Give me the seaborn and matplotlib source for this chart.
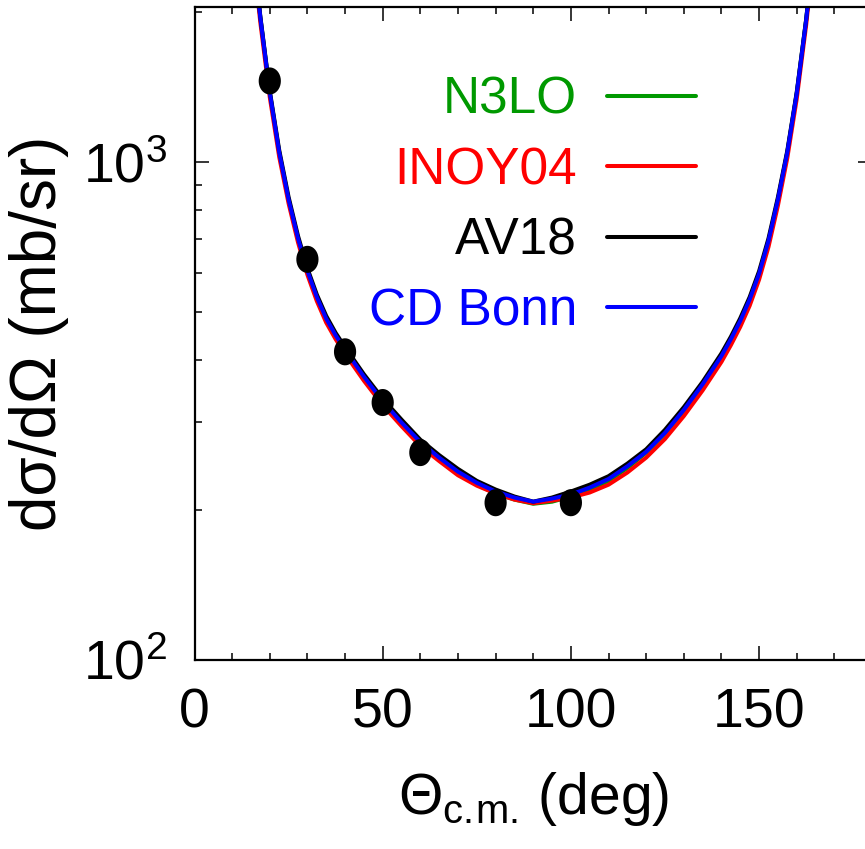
import numpy as np
import pandas as pd
import matplotlib
matplotlib.use("Agg")
import matplotlib.pyplot as plt
from matplotlib.path import Path
from matplotlib.ticker import MultipleLocator, LogLocator, NullFormatter, FixedLocator
import seaborn as sns

# ---------------- data ----------------
theta = [16.5, 17.5, 20, 22.5, 25, 27.5, 30, 32.5, 35, 37.5, 40, 45, 50, 55, 60, 65,
         70, 75, 80, 85, 90, 95, 100, 105, 110, 115, 120, 125, 130, 135, 140, 142.5,
         145, 147.5, 150, 152.5, 155, 157.5, 160, 162.5, 163.5]

n3lo = [2290, 1948, 1378, 1046, 840, 702, 604, 535, 484, 448, 419, 370, 330, 299,
        273, 254, 237, 225, 216, 210, 206, 208, 213, 220, 229, 243, 261, 285, 317,
        357, 407, 440, 479, 529, 596, 694, 840, 1046, 1373, 1927, 2264]
inoy04 = [2240, 1905, 1350, 1025, 826, 690, 594, 526, 476, 441, 412, 364, 325, 295,
          269, 251, 235, 224, 216, 210, 206.5, 209, 212, 217, 225, 238, 255, 278, 309,
          348, 397, 429, 467, 515, 581, 676, 818, 1020, 1340, 1885, 2215]
av18 = [2300, 1960, 1390, 1058, 851, 711, 612, 542, 491, 454, 425, 375, 335, 304,
        277, 258, 242, 229, 220, 213, 208, 212, 218, 225, 234, 248, 265, 290, 322,
        362, 413, 446, 486, 536, 604, 703, 850, 1055, 1382, 1935, 2272]
cdbonn = [2291, 1950, 1380, 1047, 841, 703, 605, 536, 485, 449, 420, 371, 331, 300,
          274, 255, 239, 227, 218, 212, 208, 211, 215, 222, 231, 245, 262, 286, 318,
          358, 408, 441, 480, 530, 597, 695, 841, 1047, 1374, 1928, 2265]

theta_data = [20, 30, 40, 50, 60, 80, 100]
xs_data = [1456, 638, 416, 329, 261, 207, 207]

models = ["N3LO", "INOY04", "AV18", "CD Bonn"]
colors = {"N3LO": "#009900", "INOY04": "#ff0000", "AV18": "#000000", "CD Bonn": "#0000ff"}

x_ticks = [0, 50, 100, 150]
y_ticks = [100, 1000]
y_ticklabels = [r"$\mathregular{10^{2}}$", r"$\mathregular{10^{3}}$"]

# ---------------- style ----------------
sns.set_theme(style="ticks")
fam = ["Liberation Sans", "DejaVu Sans"]
plt.rcParams["font.family"] = fam
plt.rcParams["mathtext.fontset"] = "custom"
plt.rcParams["mathtext.rm"] = "Liberation Sans"
plt.rcParams["mathtext.it"] = "Liberation Sans:italic"
plt.rcParams["mathtext.bf"] = "Liberation Sans:bold"
plt.rcParams["mathtext.sf"] = "Liberation Sans"
for k in ["text.color", "axes.labelcolor", "xtick.color", "ytick.color", "axes.edgecolor"]:
    plt.rcParams[k] = "black"

df = pd.concat([
    pd.DataFrame({"theta": theta, "xs": vals, "model": name})
    for name, vals in zip(models, [n3lo, inoy04, av18, cdbonn])
], ignore_index=True)
pts = pd.DataFrame({"theta": theta_data, "xs": xs_data})

W, H = 865, 849
fig = plt.figure(figsize=(W / 100, H / 100), dpi=100)
left, bottom, right, top = 194.5, 660, 872, 7
ax = fig.add_axes([left / W, (H - bottom) / H, (right - left) / W, (bottom - top) / H])

sns.lineplot(data=df, x="theta", y="xs", hue="model", hue_order=models,
             palette=colors, estimator=None, sort=False, lw=2.9, legend=False, ax=ax)

tt = np.linspace(0, 2 * np.pi, 40)
ell = Path(np.column_stack([0.82 * np.cos(tt), np.sin(tt)]))
sns.scatterplot(data=pts, x="theta", y="xs", color="black", marker=ell, s=380,
                edgecolor="none", zorder=5, ax=ax)

ax.set_yscale("log")
ax.set_xlim(0, 180)
ax.set_ylim(100, 2050)

ax.xaxis.set_major_locator(FixedLocator(x_ticks))
ax.xaxis.set_minor_locator(MultipleLocator(10))
ax.yaxis.set_major_locator(FixedLocator(y_ticks))
ax.yaxis.set_minor_locator(LogLocator(base=10, subs=np.arange(2, 10)))
ax.yaxis.set_minor_formatter(NullFormatter())
ax.set_yticklabels(y_ticklabels)

ax.tick_params(which="both", direction="in", top=True, right=True, labelsize=40,
               colors="black")
ax.tick_params(which="major", length=10, width=1.1)
ax.tick_params(which="minor", length=5, width=1.1)
ax.tick_params(axis="x", pad=20)
ax.tick_params(axis="y", pad=20)
for s in ax.spines.values():
    s.set_linewidth(1.6)
    s.set_color("black")

ax.set_xlabel(r"$\Theta_{\mathrm{c.\!m.\!}}$ (deg)", fontsize=41, labelpad=22,
              color="black")
ax.set_ylabel("dσ/dΩ (mb/sr)", fontsize=46, labelpad=10, color="black")

handles = ax.lines[:4]
leg = ax.legend(handles, models, loc="upper right", bbox_to_anchor=(0.740, 0.895),
                frameon=False, markerfirst=False, labelcolor="linecolor", fontsize=37,
                handlelength=1.72, handletextpad=0.59, labelspacing=0.42,
                borderpad=0, borderaxespad=0)

fig.savefig("out.png", dpi=100)
